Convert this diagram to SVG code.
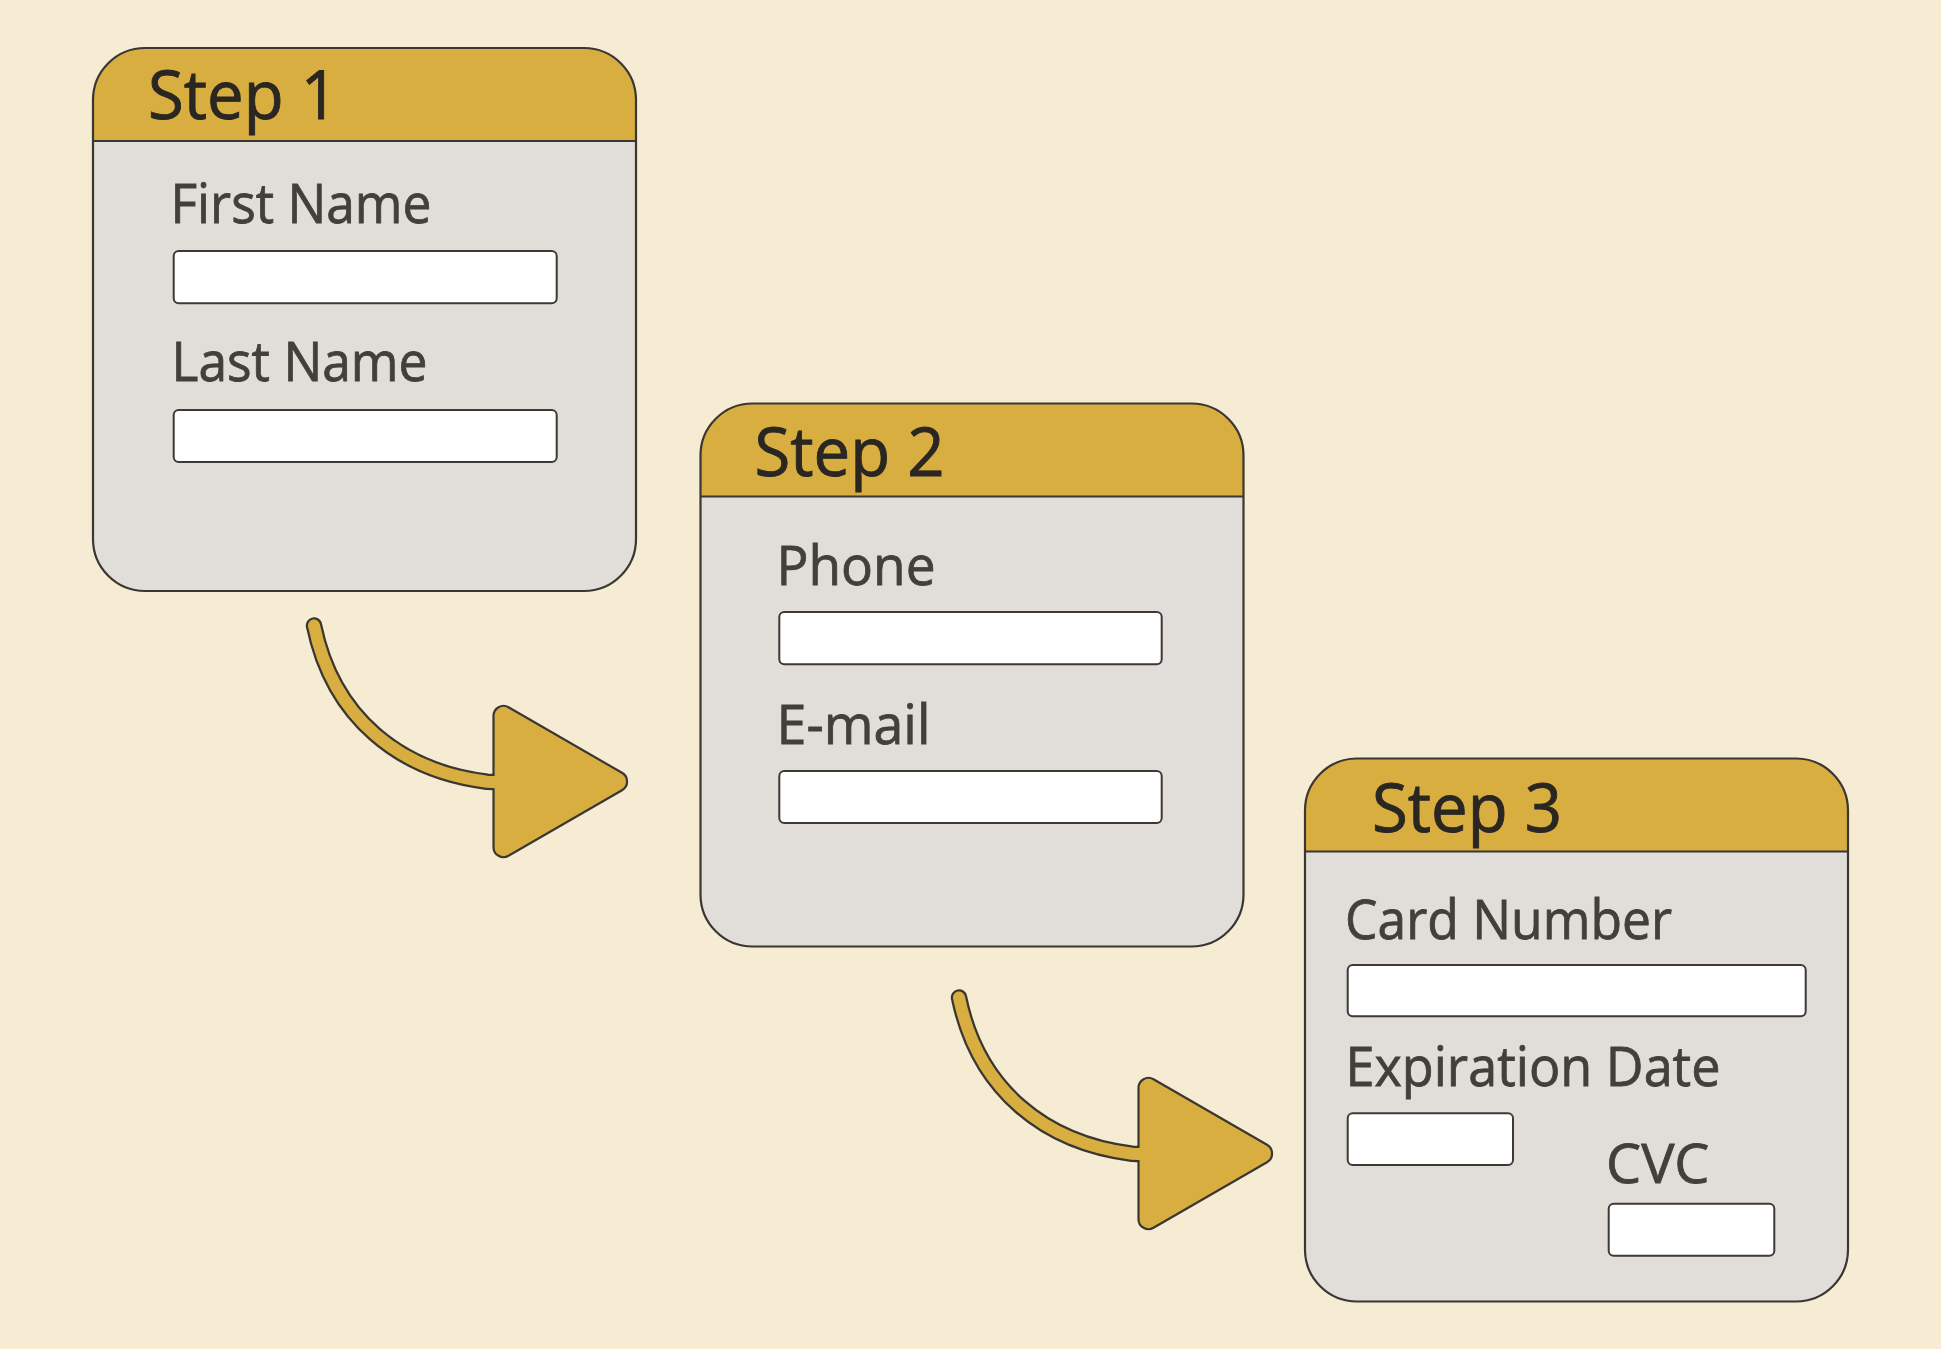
<svg xmlns="http://www.w3.org/2000/svg" xmlns:xlink="http://www.w3.org/1999/xlink" width="1941" height="1349" viewBox="0 0 1941 1349">
  <style>
    .body { fill: #e1deda; }
    .head { fill: #d8ae40; }
    .outline { fill: none; stroke: #3a3632; stroke-width: 2.2; }
    .divider { stroke: #3a3632; stroke-width: 2.2; }
    .field { fill: #ffffff; stroke: #3d3935; stroke-width: 2; }
    .step { font-family: "Open Sans", "Noto Sans", sans-serif; font-size: 67px; fill: #2a2622; stroke: #2a2622; stroke-width: 0.9; }
    .label { font-family: "Open Sans", "Noto Sans", sans-serif; font-size: 55px; fill: #433f3a; stroke: #433f3a; stroke-width: 0.8; }
    .tail-out { fill: none; stroke: #3a3632; stroke-width: 16.5; stroke-linecap: round; }
    .tail-in { fill: none; stroke: #d8ae40; stroke-width: 12; stroke-linecap: round; }
    .tri { fill: #d8ae40; stroke: #3a3632; stroke-width: 2.2; stroke-linejoin: round; }
  </style>
  <defs>
    <path id="headShape" d="M0,93 V52 A52,52 0 0 1 52,0 H491 A52,52 0 0 1 543,52 V93 Z"/>
  </defs>

  <rect x="0" y="0" width="1941" height="1349" fill="#f6ecd4"/>

  <g id="connectors">
    <g id="arrow-1">
      <path class="tail-out" d="M314,625.5 C333,718 400,771 487,781.7 L505,782.5"/>
      <path class="tri" d="M508.5,707.2 L622,772.8 A10,10 0 0 1 622,790.2 L508.5,855.8 A10,10 0 0 1 493.5,847.2 L493.5,715.8 A10,10 0 0 1 508.5,707.2 Z"/>
      <path class="tail-in" d="M314,625.5 C333,718 400,771 487,781.7 L505,782.5"/>
    </g>
    <g id="arrow-2" transform="translate(645,372)">
      <path class="tail-out" d="M314,625.5 C333,718 400,771 487,781.7 L505,782.5"/>
      <path class="tri" d="M508.5,707.2 L622,772.8 A10,10 0 0 1 622,790.2 L508.5,855.8 A10,10 0 0 1 493.5,847.2 L493.5,715.8 A10,10 0 0 1 508.5,707.2 Z"/>
      <path class="tail-in" d="M314,625.5 C333,718 400,771 487,781.7 L505,782.5"/>
    </g>
  </g>

  <g id="step-1" transform="translate(93,48)">
    <rect class="body" x="0" y="0" width="543" height="543" rx="52" ry="52"/>
    <use xlink:href="#headShape" class="head"/>
    <line class="divider" x1="0" y1="93" x2="543" y2="93"/>
    <rect class="outline" x="0" y="0" width="543" height="543" rx="52" ry="52"/>
    <text class="step" x="55" y="71" textLength="190" lengthAdjust="spacingAndGlyphs">Step 1</text>
    <text class="label" x="77.5" y="174.7" textLength="261" lengthAdjust="spacingAndGlyphs">First Name</text>
    <rect class="field" x="80.7" y="203" width="383" height="52.3" rx="5"/>
    <text class="label" x="78.5" y="333" textLength="256" lengthAdjust="spacingAndGlyphs">Last Name</text>
    <rect class="field" x="80.7" y="362" width="383" height="52" rx="5"/>
  </g>

  <g id="step-2" transform="translate(700.5,403.5)">
    <rect class="body" x="0" y="0" width="543" height="543" rx="52" ry="52"/>
    <use xlink:href="#headShape" class="head"/>
    <line class="divider" x1="0" y1="93" x2="543" y2="93"/>
    <rect class="outline" x="0" y="0" width="543" height="543" rx="52" ry="52"/>
    <text class="step" x="54" y="72.5" textLength="190" lengthAdjust="spacingAndGlyphs">Step 2</text>
    <text class="label" x="76" y="181.5" textLength="159" lengthAdjust="spacingAndGlyphs">Phone</text>
    <rect class="field" x="78.8" y="208.5" width="382.4" height="52.3" rx="5"/>
    <text class="label" x="76" y="340.5" textLength="154" lengthAdjust="spacingAndGlyphs">E-mail</text>
    <rect class="field" x="78.8" y="367.5" width="382.4" height="52" rx="5"/>
  </g>

  <g id="step-3" transform="translate(1305,758.5)">
    <rect class="body" x="0" y="0" width="543" height="543" rx="52" ry="52"/>
    <use xlink:href="#headShape" class="head"/>
    <line class="divider" x1="0" y1="93" x2="543" y2="93"/>
    <rect class="outline" x="0" y="0" width="543" height="543" rx="52" ry="52"/>
    <text class="step" x="67" y="73.2" textLength="190" lengthAdjust="spacingAndGlyphs">Step 3</text>
    <text class="label" x="40" y="180.8" textLength="327" lengthAdjust="spacingAndGlyphs">Card Number</text>
    <rect class="field" x="42.7" y="206.5" width="458" height="51.3" rx="5"/>
    <text class="label" x="40.5" y="327.5" textLength="375" lengthAdjust="spacingAndGlyphs">Expiration Date</text>
    <rect class="field" x="42.7" y="354.8" width="165.3" height="51.7" rx="5"/>
    <text class="label" x="301" y="424.2" textLength="103.5" lengthAdjust="spacingAndGlyphs">CVC</text>
    <rect class="field" x="303.7" y="445.2" width="165.6" height="52" rx="5"/>
  </g>
</svg>
